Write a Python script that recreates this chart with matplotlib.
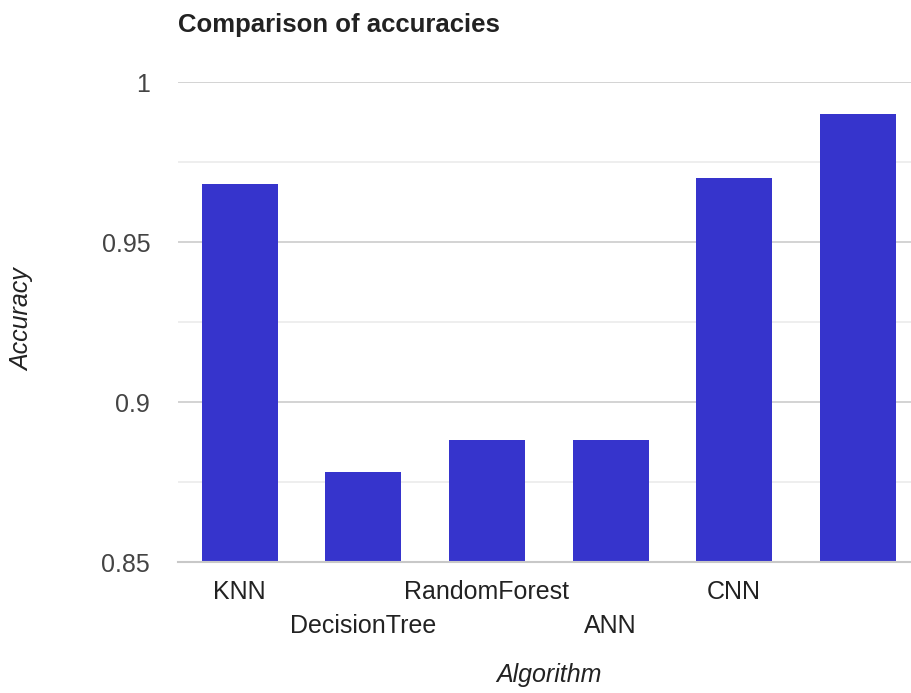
import numpy as np
import matplotlib
matplotlib.use('Agg')
import matplotlib.pyplot as plt

algorithms = ['KNN', 'DecisionTree', 'RandomForest', 'ANN', 'CNN', '']
accuracy = [0.968, 0.878, 0.888, 0.888, 0.970, 0.990]

major_ticks = [0.85, 0.9, 0.95, 1.0]
major_labels = ['0.85', '0.9', '0.95', '1']
minor_ticks = [0.875, 0.925, 0.975]

plt.rcParams['font.family'] = ['Liberation Sans', 'DejaVu Sans']

fig = plt.figure(figsize=(9.11, 6.93), dpi=100)
# plot area runs past the right edge of the figure, last band gets cut
ax = fig.add_axes([178 / 911, 1 - 562 / 693, 741.6 / 911, 480 / 693])

x = np.arange(len(algorithms))
ax.bar(x, accuracy, width=0.615, color='#3634cc', zorder=3)
ax.set_xlim(-0.5, len(algorithms) - 0.5)
ax.set_ylim(0.85, 1.0)

ax.set_yticks(major_ticks)
ax.set_yticklabels(major_labels, color='#444444', fontsize=18)
ax.set_yticks(minor_ticks, minor=True)
ax.grid(axis='y', which='major', color='#cccccc', linewidth=1.2, zorder=0)
ax.grid(axis='y', which='minor', color='#ebebeb', linewidth=1.2, zorder=0)
ax.tick_params(axis='y', which='both', length=0, pad=20)

ax.set_xticks(x)
ax.set_xticklabels(algorithms, color='#222222', fontsize=18)
ax.tick_params(axis='x', length=0, pad=13)
# alternate rows so the long names don't overlap
for t in ax.xaxis.get_major_ticks()[1::2]:
    t.set_pad(37.5)

for s in ['top', 'right', 'left']:
    ax.spines[s].set_visible(False)
ax.spines['bottom'].set_color('#c8c8c8')
ax.spines['bottom'].set_linewidth(1.5)
ax.spines['bottom'].set_zorder(4)

fig.text(178 / 911, 1 - 32 / 693, 'Comparison of accuracies', fontsize=18.5,
         fontweight='bold', color='#222222', va='baseline', ha='left')
fig.text(549 / 911, 1 - 675 / 693, 'Algorithm', fontsize=18, style='italic',
         color='#222222', va='center', ha='center')
fig.text(22 / 911, 1 - 320 / 693, 'Accuracy', fontsize=18, style='italic',
         color='#222222', va='center', ha='center', rotation=90)

fig.savefig('out.png', dpi=100)
